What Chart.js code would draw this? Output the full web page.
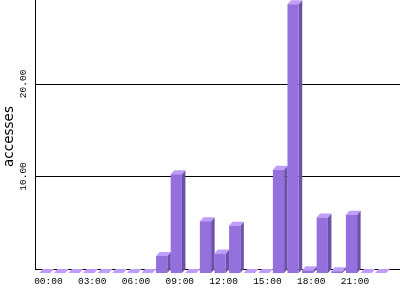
<!DOCTYPE html>
<html>
<head>
<meta charset="utf-8">
<script src="https://cdn.jsdelivr.net/npm/chart.js@4"></script>
<style>
  body { margin: 0; background: #fff; }
  canvas { display: block; }
</style>
</head>
<body>
<canvas id="accessChart" width="400" height="300"></canvas>
<script>
// hourly accesses
const hours = ['00:00', '01:00', '02:00', '03:00', '04:00', '05:00', '06:00', '07:00',
  '08:00', '09:00', '10:00', '11:00', '12:00', '13:00', '14:00', '15:00',
  '16:00', '17:00', '18:00', '19:00', '20:00', '21:00', '22:00', '23:00'];
const accesses = [0, 0, 0, 0, 0, 0, 0, 0,
  1.85, 10.67, 0, 5.6, 2.1, 5.1, 0, 0,
  11.15, 29.05, 0.3, 6.0, 0.2, 6.3, 0, 0];
const yTicks = [10, 20];

const DEPTH_X = 3.5;
const DEPTH_Y = 4;
const FRONT = '#9370db';
const SIDE = '#6c51a8';
const TOP = '#c09cfc';

// grid + axes sit on the back plane, bars get side and top faces
const threeD = {
  id: 'threeD',
  beforeDatasetsDraw(chart) {
    const ctx = chart.ctx;
    const y = chart.scales.y;
    ctx.save();
    ctx.strokeStyle = '#000';
    ctx.lineWidth = 1;
    [0, ...yTicks].forEach(v => {
      const py = Math.round(y.getPixelForValue(v) - DEPTH_Y) + 0.5;
      ctx.beginPath();
      ctx.moveTo(35, py);
      ctx.lineTo(400, py);
      ctx.stroke();
    });
    const base = Math.round(y.getPixelForValue(0) - DEPTH_Y) + 0.5;
    ctx.beginPath();
    ctx.moveTo(35.5, 0);
    ctx.lineTo(35.5, base);
    ctx.stroke();

    chart.getDatasetMeta(0).data.forEach(bar => {
      const l = bar.x - bar.width / 2;
      const r = bar.x + bar.width / 2;
      const t = bar.y;
      const b = bar.base;
      ctx.fillStyle = SIDE;
      ctx.beginPath();
      ctx.moveTo(r, t);
      ctx.lineTo(r + DEPTH_X, t - DEPTH_Y);
      ctx.lineTo(r + DEPTH_X, b - DEPTH_Y);
      ctx.lineTo(r, b);
      ctx.closePath();
      ctx.fill();
      ctx.fillStyle = TOP;
      ctx.beginPath();
      ctx.moveTo(l, t);
      ctx.lineTo(l + DEPTH_X, t - DEPTH_Y);
      ctx.lineTo(r + DEPTH_X, t - DEPTH_Y);
      ctx.lineTo(r, t);
      ctx.closePath();
      ctx.fill();
    });
    ctx.restore();
  }
};

new Chart(document.getElementById('accessChart'), {
  type: 'bar',
  data: {
    labels: hours,
    datasets: [{
      label: 'accesses',
      data: accesses,
      backgroundColor: FRONT,
      borderWidth: 0,
      barPercentage: 0.77,
      categoryPercentage: 1.0,
    }],
  },
  options: {
    responsive: false,
    animation: false,
    layout: { padding: { top: 0, left: 0, bottom: 0, right: 12 } },
    plugins: {
      legend: { display: false },
      tooltip: { enabled: false },
    },
    scales: {
      x: {
        grid: { display: false, drawTicks: false },
        border: { display: false },
        ticks: {
          autoSkip: false,
          maxRotation: 0,
          padding: 3,
          labelOffset: 3.5,
          color: '#000',
          font: { family: 'Liberation Mono', size: 9.5 },
          callback: (v, i) => (i % 3 === 0 ? hours[i] : null),
        },
        afterFit: (scale) => {
          scale.height = 27;
          scale.paddingLeft = 0;
          scale.paddingRight = 0;
        },
      },
      y: {
        min: 0,
        max: 29.5,
        grid: { display: false, drawTicks: false },
        border: { display: false },
        ticks: {
          stepSize: 10,
          minRotation: 90,
          maxRotation: 90,
          crossAlign: 'center',
          padding: 0,
          labelOffset: -4,
          color: '#000',
          font: { family: 'Liberation Mono', size: 9.5 },
          callback: (v) => (yTicks.includes(v) ? v.toFixed(2) : null),
        },
        title: {
          display: true,
          text: 'accesses',
          color: '#000',
          font: { family: 'DejaVu Sans', size: 13.5 },
          padding: { top: 1, bottom: 0 },
        },
        afterFit: (scale) => {
          scale.width = 37.6;
          scale.paddingTop = 0;
          scale.paddingBottom = 0;
        },
      },
    },
  },
  plugins: [threeD],
});
</script>
</body>
</html>
